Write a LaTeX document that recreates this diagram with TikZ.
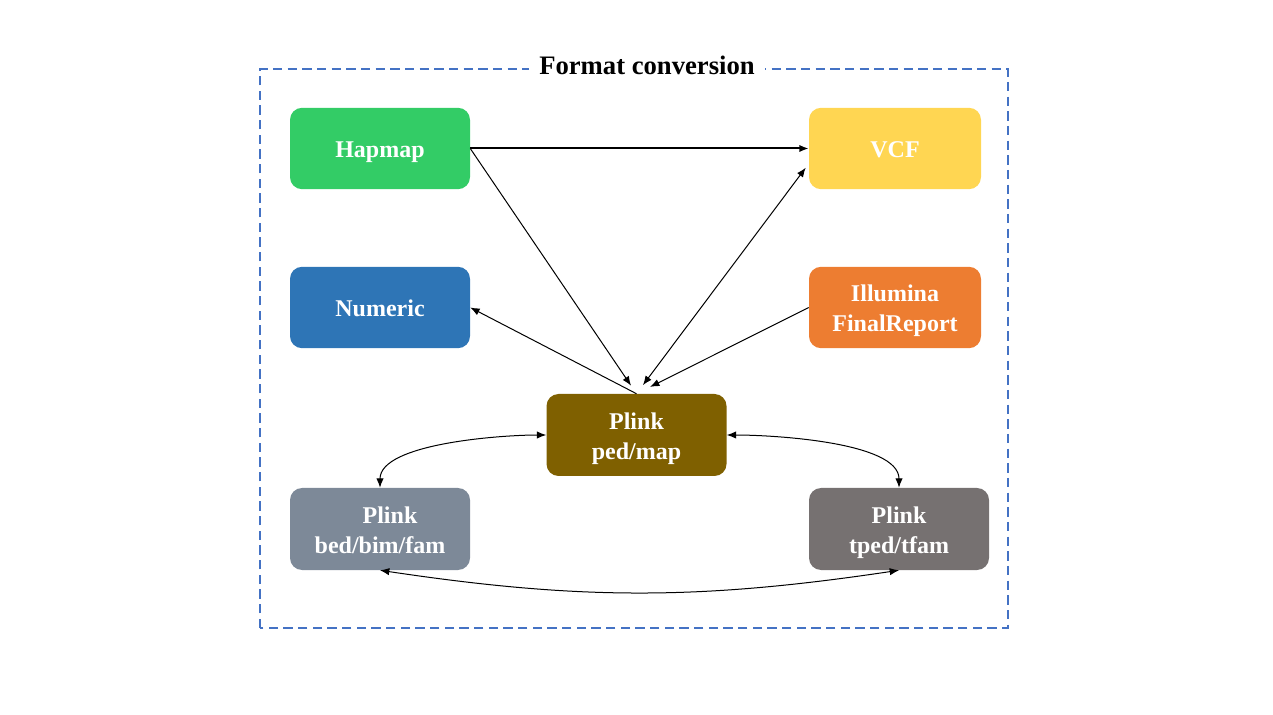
\documentclass[tikz,border=0pt]{standalone}
\usepackage{fontspec}
\setmainfont{Liberation Serif}
\usetikzlibrary{arrows.meta}

\definecolor{framblue}{RGB}{68,114,196}
\definecolor{hapgreen}{RGB}{51,204,102}
\definecolor{vcfyellow}{RGB}{255,214,82}
\definecolor{numblue}{RGB}{46,117,182}
\definecolor{illorange}{RGB}{237,125,49}
\definecolor{plinkolive}{RGB}{127,96,0}
\definecolor{bedslate}{RGB}{125,137,152}
\definecolor{tpedgray}{RGB}{118,113,113}

% strut for the first text line of a box
\newcommand{\firstline}{\rule{0pt}{18pt}}

\begin{document}
\begin{tikzpicture}[x=0.75pt,y=0.75pt,
  fmtbox/.style={rounded corners=9pt, minimum width=135pt, minimum height=61pt,
    inner sep=0pt, align=center, text=white, font=\fontsize{18}{22.5}\selectfont\bfseries,
    execute at end node={\rule[-4pt]{0pt}{0pt}}},
  conv/.style={line width=0.75pt, >={Latex[length=7pt,width=5.5pt]}}]

% Canvas
\useasboundingbox (0,0) rectangle (1273,714);

% Frame
\draw[framblue, line width=1.5pt, dash pattern=on 7pt off 4pt] (260,86) rectangle (1008,645);
\node[fill=white, inner xsep=7.5pt, font=\fontsize{20}{24}\selectfont\bfseries] (title) at (647,649) {Format conversion};

% Formats
\node[fmtbox, fill=hapgreen] (hapmap) at (380,565.5) {\firstline Hapmap};
\node[fmtbox, fill=vcfyellow, minimum width=129pt] (vcf) at (895,565.5) {\firstline VCF};
\node[fmtbox, fill=numblue] (numeric) at (380,406.5) {\firstline Numeric};
\node[fmtbox, fill=illorange, minimum width=129pt] (illumina) at (895,406.5) {\firstline Illumina\\FinalReport};
\node[fmtbox, fill=plinkolive, minimum height=61.5pt] (plink) at (636.5,279) {\firstline Plink\\ped/map};
\node[fmtbox, fill=bedslate, minimum height=61.5pt] (bbf) at (380,185) {\firstline\hspace*{15pt}Plink\\bed/bim/fam};
\node[fmtbox, fill=tpedgray, minimum height=61.5pt] (tped) at (899,185) {\firstline Plink\\tped/tfam};

% Conversions
\draw[conv, ->, line width=1.5pt] (hapmap.east) -- (vcf.west);
\draw[conv, ->, shorten >=7.3pt] (hapmap.east) -- (plink.north);
\draw[conv, <->, shorten <=3.8pt, shorten >=8pt] (vcf.190) -- (plink.north);
\draw[conv, ->] (plink.north) -- (numeric.east);
\draw[conv, ->, shorten >=11.4pt] (illumina.west) -- (plink.north);

% Plink family
\draw[conv, <->] (plink.west) to[out=180, in=90, looseness=0.65] (bbf.north);
\draw[conv, <->] (plink.east) to[out=0, in=90, looseness=0.65] (tped.north);
\draw[conv, <->] (bbf.south) to[bend right=8.5] (tped.south);

\end{tikzpicture}
\end{document}
